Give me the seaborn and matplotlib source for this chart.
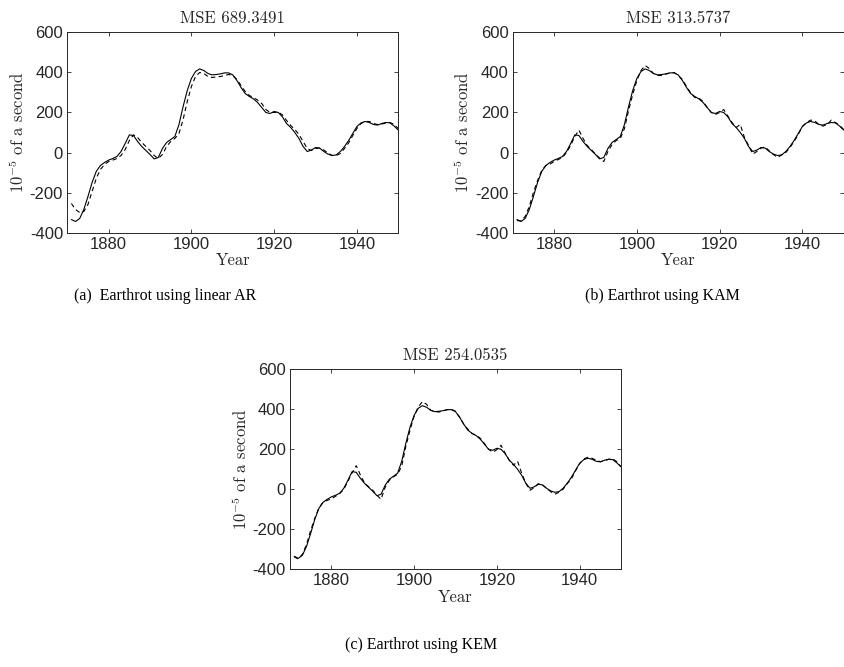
import matplotlib
matplotlib.use("Agg")
import numpy as np
import pandas as pd
import matplotlib.pyplot as plt
import seaborn as sns


# ── Data ──────────────────────────────────────────────────────────────────────

years = list(range(1871, 1951))

observed = [
    -335, -345, -330, -285, -220, -150, -95, -65, -50, -38,
    -30, -20, 5, 45, 88, 85, 55, 30, 10, -10,
    -32, -25, 20, 50, 65, 80, 140, 230, 310, 370,
    405, 418, 410, 395, 388, 390, 393, 398, 398, 388,
    360, 325, 295, 280, 268, 250, 225, 200, 195, 205,
    200, 178, 145, 125, 100, 70, 30, 5, 12, 25,
    22, 5, -8, -15, -12, 5, 30, 60, 95, 130,
    148, 155, 150, 140, 137, 145, 150, 148, 132, 112,
]

pred_ar = [
    -255, -285, -300, -295, -260, -195, -130, -85, -60, -45,
    -38, -30, -15, 15, 60, 88, 75, 50, 30, 10,
    -15, -30, -10, 30, 55, 70, 95, 165, 255, 330,
    380, 400, 395, 380, 375, 378, 380, 385, 390, 385,
    365, 335, 305, 285, 275, 262, 245, 215, 200, 200,
    202, 188, 160, 135, 115, 90, 55, 20, 10, 20,
    22, 12, -2, -15, -15, -5, 20, 48, 85, 120,
    145, 155, 155, 145, 140, 142, 148, 150, 140, 120,
]

pred_kam = [
    -340, -342, -320, -270, -200, -140, -90, -65, -58, -45,
    -35, -25, 0, 35, 80, 112, 70, 35, 15, -8,
    -28, -45, 5, 40, 60, 70, 120, 210, 290, 360,
    410, 435, 420, 395, 385, 385, 392, 398, 400, 385,
    365, 330, 298, 275, 272, 255, 225, 200, 190, 200,
    215, 182, 150, 125, 140, 75, 35, -8, 5, 22,
    28, 8, -10, -25, -12, 0, 25, 55, 90, 130,
    150, 162, 158, 140, 132, 140, 162, 150, 135, 115,
]

pred_kem = [
    -338, -348, -325, -275, -205, -145, -92, -65, -55, -48,
    -35, -22, 0, 40, 82, 118, 72, 32, 12, -5,
    -30, -50, 10, 45, 62, 75, 115, 215, 295, 365,
    412, 438, 425, 395, 388, 386, 392, 398, 400, 390,
    360, 325, 300, 278, 270, 255, 228, 200, 185, 198,
    220, 180, 145, 120, 140, 80, 30, -5, 8, 28,
    22, 5, -12, -25, -15, 0, 28, 52, 92, 128,
    152, 160, 155, 145, 138, 142, 150, 152, 138, 112,
]

mse_values = ["689.3491", "313.5737", "254.0535"]
captions = ["(a)  Earthrot using linear AR",
            "(b) Earthrot using KAM",
            "(c) Earthrot using KEM"]
predictions = [pred_ar, pred_kam, pred_kem]

x_ticks = [1880, 1900, 1920, 1940]
y_ticks = [-400, -200, 0, 200, 400, 600]


# ── Style ─────────────────────────────────────────────────────────────────────

sns.set_style("ticks")
plt.rcParams["mathtext.fontset"] = "cm"
plt.rcParams["axes.unicode_minus"] = False

INK = "#262626"

fig = plt.figure(figsize=(8.44, 6.67), dpi=100)

# axes boxes [left, bottom, width, height] in figure fractions
boxes = [
    [0.0797, 0.6514, 0.3922, 0.2999],
    [0.6075, 0.6514, 0.3922, 0.2999],
    [0.3436, 0.1465, 0.3922, 0.2999],
]
caption_pos = [(0.196, 0.556), (0.785, 0.556), (0.499, 0.033)]


# ── Panels ────────────────────────────────────────────────────────────────────

for box, pred, mse, cap, cpos in zip(boxes, predictions, mse_values,
                                     captions, caption_pos):
    ax = fig.add_axes(box)
    df = pd.DataFrame({"Year": years, "observed": observed, "predicted": pred})

    sns.lineplot(data=df, x="Year", y="observed", ax=ax,
                 color="black", lw=0.8)
    sns.lineplot(data=df, x="Year", y="predicted", ax=ax,
                 color="black", lw=0.8, linestyle=(0, (4, 3)))

    ax.set_xlim(1870, 1950)
    ax.set_ylim(-400, 600)
    ax.set_xticks(x_ticks)
    ax.set_yticks(y_ticks)
    ax.tick_params(direction="in", top=True, right=True, length=3,
                   width=0.6, labelsize=12, colors=INK, pad=3)
    for lbl in ax.get_xticklabels() + ax.get_yticklabels():
        lbl.set_fontfamily("Liberation Sans")
    for sp in ax.spines.values():
        sp.set_visible(True)
        sp.set_linewidth(0.7)
        sp.set_color(INK)

    ax.set_title(f"MSE {mse}", fontfamily="cmr10", fontsize=12,
                 color=INK, pad=7)
    ax.set_xlabel("Year", fontfamily="cmr10", fontsize=12,
                  color=INK, labelpad=1)
    ax.set_ylabel(r"$10^{-5}$ of a second", fontfamily="cmr10",
                  fontsize=12, color=INK, labelpad=2)

    fig.text(cpos[0], cpos[1], cap, ha="center", va="center",
             fontfamily="Liberation Serif", fontsize=11.5, color="black")

fig.savefig("out.png", dpi=100)
